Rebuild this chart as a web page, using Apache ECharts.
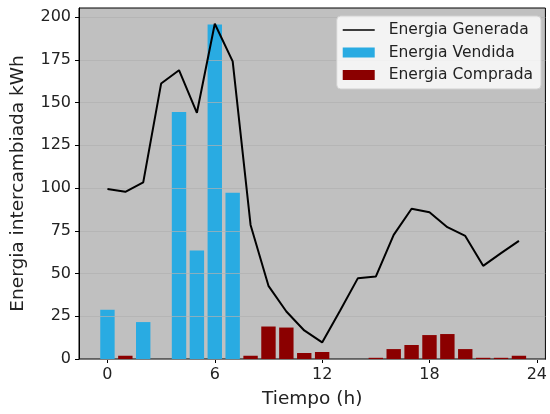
<!DOCTYPE html>
<html>
<head>
<meta charset="utf-8">
<script src="https://cdn.jsdelivr.net/npm/echarts@6/dist/echarts.min.js"></script>
<style>
  html, body { margin: 0; padding: 0; background: #fff; }
  #chart { width: 550px; height: 414px; }
</style>
</head>
<body>
<div id="chart"></div>
<script>
var hours = [0, 1, 2, 3, 4, 5, 6, 7, 8, 9, 10, 11, 12, 13, 14, 15, 16, 17, 18, 19, 20, 21, 22, 23];
var generada = [99.4, 97.8, 103.3, 161.1, 168.9, 144.0, 196.1, 174.1, 78.4, 42.8, 27.8, 16.7,
                9.7, 28.2, 47.3, 48.2, 72.6, 87.9, 85.8, 77.1, 72.0, 54.5, 61.9, 69.1];
var vendida = [28.8, 0, 21.6, 0, 144.4, 63.4, 195.6, 97.3, 0, 0, 0, 0,
               0, 0, 0, 0, 0, 0, 0, 0, 0, 0, 0, 0];
var comprada = [0, 1.9, 0, 0, 0, 0, 0, 0, 1.9, 19.0, 18.4, 3.5,
                4.1, 0, 0, 0.7, 5.8, 8.2, 14.0, 14.6, 5.8, 0.7, 0.7, 1.9];
var xTicks = [0, 6, 12, 18, 24];
var yTicks = [0, 25, 50, 75, 100, 125, 150, 175, 200];

function pairs(vals) {
  return hours.map(function (h, i) { return [h, vals[i]]; });
}

// thin horizontal line icon, padded with tiny subpaths so it isn't stretched
var lineIcon = 'path://M0,0L0.01,0M0,4.2L32,4.2L32,5.8L0,5.8ZM0,10L0.01,10';

var font = 'DejaVu Sans';
var chart = echarts.init(document.getElementById('chart'));
chart.setOption({
  animation: false,
  textStyle: { fontFamily: font },
  grid: {
    left: 79, top: 8, right: 2, bottom: 55,
    show: true,
    backgroundColor: '#c0c0c0',
    borderColor: '#000',
    borderWidth: 1
  },
  legend: {
    orient: 'vertical',
    right: 9,
    top: 16,
    padding: [6, 8, 6, 6],
    itemWidth: 32,
    itemHeight: 10,
    itemGap: 6.5,
    backgroundColor: 'rgba(255,255,255,0.8)',
    borderColor: '#d0d0d0',
    borderWidth: 1,
    borderRadius: 4,
    textStyle: { fontFamily: font, fontSize: 15.5, color: '#222', padding: [0, 0, 0, 9] },
    data: [
      { name: 'Energia Generada', icon: lineIcon },
      { name: 'Energia Vendida', icon: 'rect' },
      { name: 'Energia Comprada', icon: 'rect' }
    ]
  },
  xAxis: {
    type: 'value',
    min: -1.59,
    max: 24.48,
    name: 'Tiempo (h)',
    nameLocation: 'middle',
    nameGap: 31,
    nameTextStyle: { fontFamily: font, fontSize: 18.5, color: '#222' },
    axisLine: { show: true, onZero: false, lineStyle: { color: '#000', width: 1 } },
    axisTick: { show: true, length: 4, customValues: xTicks, lineStyle: { color: '#000' } },
    axisLabel: { customValues: xTicks, fontSize: 16, color: '#222', margin: 8 },
    splitLine: { show: false }
  },
  yAxis: {
    type: 'value',
    min: 0,
    max: 205.3,
    interval: 25,
    z: 3,
    name: 'Energia intercambiada kWh',
    nameLocation: 'middle',
    nameGap: 51,
    nameTextStyle: { fontFamily: font, fontSize: 18.5, color: '#222' },
    axisLine: { show: true, onZero: false, lineStyle: { color: '#000', width: 1 } },
    axisTick: { show: true, length: 4, customValues: yTicks, lineStyle: { color: '#000' } },
    axisLabel: { customValues: yTicks, fontSize: 16, color: '#222', margin: 8 },
    splitLine: { show: true, lineStyle: { color: 'rgba(176,176,176,0.7)', width: 1 } }
  },
  series: [
    {
      name: 'Energia Generada',
      type: 'line',
      z: 5,
      symbol: 'none',
      data: pairs(generada),
      lineStyle: { color: '#000', width: 2 },
      itemStyle: { color: '#000' }
    },
    {
      name: 'Energia Vendida',
      type: 'bar',
      barWidth: 14.4,
      barGap: '-100%',
      data: pairs(vendida),
      itemStyle: { color: '#29abe2' }
    },
    {
      name: 'Energia Comprada',
      type: 'bar',
      barWidth: 14.4,
      barGap: '-100%',
      data: pairs(comprada),
      itemStyle: { color: '#8b0000' }
    }
  ]
});
</script>
</body>
</html>
